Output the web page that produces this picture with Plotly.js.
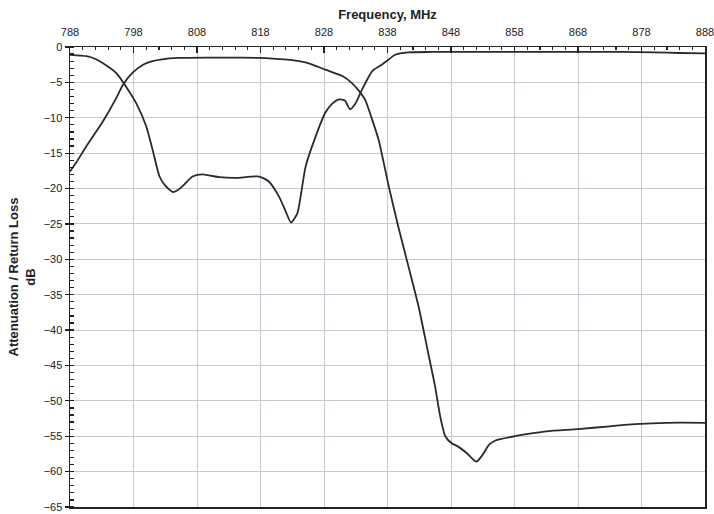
<!DOCTYPE html>
<html>
<head>
<meta charset="utf-8">
<script src="https://cdn.plot.ly/plotly-3.0.1.min.js"></script>
<style>html,body{margin:0;padding:0;background:#fff;}#chart{width:714px;height:514px;}</style>
</head>
<body>
<div id="chart"></div>
<script>
// Attenuation (filter response)
const attFreq = [788,789,790.6,793.2,795.3,796.3,797.9,799.5,801,802.5,805,810,815,818,821,823,825.6,828.2,830.9,832.4,833.5,834.5,835.6,836.6,838.2,839.7,841.3,842.9,844.4,845.5,846.3,847.1,848.1,849,850.5,852,853,854,855,858,863,868,873,877,882,888];
const attDb   = [-17.6,-16.3,-14.0,-10.5,-7.2,-5.4,-3.6,-2.5,-2.0,-1.75,-1.55,-1.5,-1.5,-1.55,-1.7,-1.85,-2.3,-3.2,-4.1,-5.1,-6.2,-7.5,-10.3,-13.1,-19.7,-25.4,-31.0,-36.7,-43.2,-48.0,-52.2,-55.0,-56.0,-56.4,-57.4,-58.6,-57.6,-56.2,-55.6,-55.0,-54.3,-54.0,-53.6,-53.3,-53.1,-53.1];
// Return loss
const rlFreq = [788,790.6,792,793.2,795.3,796.3,798.4,800,801,802.1,803,804.2,805,805.7,807.3,808.9,811.5,814.1,817.8,819.3,820.9,822,822.8,823.8,825.1,826.7,828.2,829.3,830.4,831.3,832.1,833,834,835.6,837.1,838,839.2,841.3,845,860,875,880,884,888];
const rlDb   = [-1.1,-1.3,-1.7,-2.3,-3.7,-4.9,-7.9,-11.2,-14.5,-18.3,-19.6,-20.5,-20.2,-19.7,-18.3,-18.0,-18.4,-18.5,-18.3,-19.0,-21.1,-23.3,-24.8,-23.5,-16.9,-12.6,-9.3,-8.0,-7.4,-7.6,-8.8,-7.9,-6.0,-3.4,-2.5,-1.9,-1.1,-0.76,-0.7,-0.7,-0.7,-0.75,-0.85,-0.9];

const lineStyle = {color:'#2a2a2a', width:1.8, shape:'spline', smoothing:0.6};
const data = [
  {x: attFreq, y: attDb, mode:'lines', line: lineStyle, name:'Attenuation', hoverinfo:'skip'},
  {x: rlFreq, y: rlDb, mode:'lines', line: lineStyle, name:'Return Loss', hoverinfo:'skip'}
];
const fam = '"Liberation Sans", Arial, sans-serif';
const layout = {
  width:714, height:514,
  margin:{l:70, r:9, t:47, b:7},
  paper_bgcolor:'#ffffff', plot_bgcolor:'#ffffff',
  showlegend:false,
  font:{family:fam, size:11, color:'#222'},
  xaxis:{
    side:'top', range:[788,888], tick0:788, dtick:10,
    showgrid:true, gridcolor:'#c6c9d3', gridwidth:1,
    showline:true, linecolor:'#222', linewidth:1.5, mirror:true,
    ticks:'inside', ticklen:6, tickcolor:'#222', tickwidth:1.2,
    minor:{dtick:2, tick0:788, ticks:'inside', ticklen:3, tickcolor:'#222', showgrid:false},
    tickfont:{family:fam, size:11, color:'#222'},
    ticklabelstandoff:5, ticklabeloverflow:'allow',
    zeroline:false,
    title:{text:'Frequency, MHz', font:{family:fam, size:13, color:'#222', weight:'bold'}, standoff:3}
  },
  yaxis:{
    range:[-65,0], tick0:0, dtick:5,
    showgrid:true, gridcolor:'#c6c9d3', gridwidth:1,
    showline:true, linecolor:'#222', linewidth:1.5, mirror:true,
    ticks:'outside', ticklen:4, tickcolor:'#222', tickwidth:1.2,
    minor:{dtick:1, ticks:'inside', ticklen:4, tickcolor:'#222', showgrid:false},
    tickfont:{family:fam, size:11, color:'#222'},
    zeroline:false,
    title:{text:'Attenuation / Return Loss<br>dB', font:{family:fam, size:13, color:'#222', weight:'bold'}, standoff:5}
  }
};
Plotly.newPlot('chart', data, layout, {staticPlot:true, displayModeBar:false});
</script>
</body>
</html>
